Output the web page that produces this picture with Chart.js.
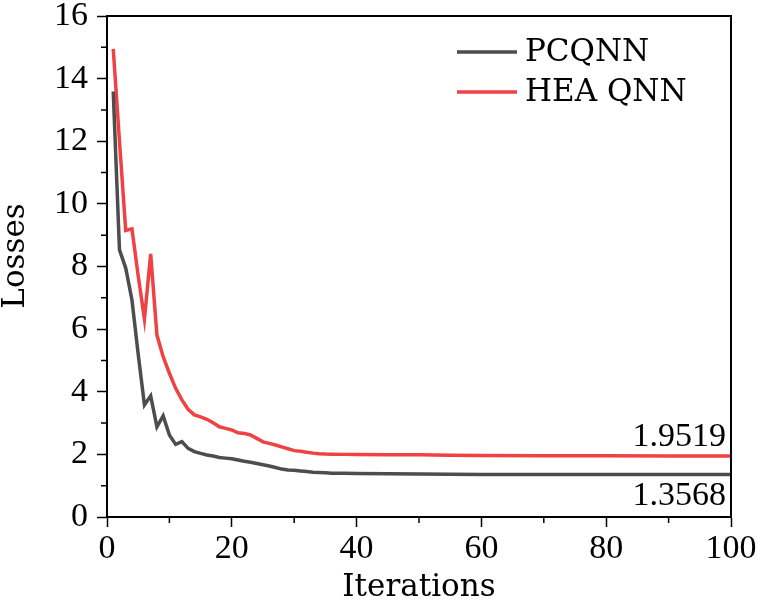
<!DOCTYPE html>
<html>
    <head>
        <title>Losses</title>
        <meta charset="utf-8">
        <style>
            html, body { margin: 0; padding: 0; background: #fff; }
            .chart-container { position: relative; width: 758px; height: 609px; }
        </style>
    </head>
    <body>
        <div class="chart-container">
            <canvas id="myChart"></canvas>
        </div>
        <script src="https://cdn.jsdelivr.net/npm/chart.js@4/dist/chart.umd.min.js"></script>
        <script>
            // values
            const iterations = [1, 2, 3, 4, 5, 6, 7, 8, 9, 10, 11, 12, 13, 14, 15, 16, 17, 18, 19, 20,
                21, 22, 23, 24, 25, 26, 27, 28, 29, 30, 31, 32, 33, 34, 35, 36, 38, 40, 45, 50,
                55, 60, 70, 80, 90, 100];
            const pcqnn = [13.59, 8.53, 7.95, 6.93, 5.2, 3.58, 3.87, 2.88, 3.23, 2.62, 2.32, 2.41, 2.19, 2.09, 2.03, 1.98, 1.95, 1.90, 1.88, 1.86,
                1.82, 1.78, 1.75, 1.71, 1.67, 1.63, 1.58, 1.53, 1.50, 1.49, 1.47, 1.45, 1.43, 1.42, 1.41, 1.40, 1.395, 1.39, 1.38, 1.37,
                1.365, 1.36, 1.358, 1.357, 1.357, 1.3568];
            const heaQnn = [14.95, 12.0, 9.15, 9.2, 7.7, 6.32, 8.40, 5.81, 5.12, 4.59, 4.11, 3.74, 3.44, 3.26, 3.20, 3.12, 3.01, 2.88, 2.83, 2.78,
                2.69, 2.67, 2.62, 2.51, 2.40, 2.35, 2.30, 2.24, 2.18, 2.12, 2.10, 2.07, 2.04, 2.02, 2.01, 2.005, 2.0, 2.0, 1.99, 1.985,
                1.975, 1.965, 1.955, 1.953, 1.952, 1.9519];
            const seriesNames = ['PCQNN', 'HEA QNN'];
            const seriesColors = ['#4d4d4d', '#f04242'];
            const endLabels = ['1.3568', '1.9519'];
            const xTicks = [0, 20, 40, 60, 80, 100];
            const yTicks = [0, 2, 4, 6, 8, 10, 12, 14, 16];
            const xMinor = [10, 30, 50, 70, 90];
            const yMinor = [1, 3, 5, 7, 9, 11, 13, 15];

            // numbers in a Times-like face, words in a wider serif (closer to the original widths)
            const numFont = "'Liberation Serif', serif";
            const wordFont = "'DejaVu Serif', serif";
            const numSize = 34;
            const wordSize = 31;

            // frame, minor ticks, y title, legend and end values
            const extras = {
                id: 'extras',
                afterDraw(chart) {
                    const c = chart.ctx;
                    const a = chart.chartArea;
                    const xs = chart.scales.x, ys = chart.scales.y;
                    c.save();
                    c.strokeStyle = '#000';
                    c.lineWidth = 2;
                    c.strokeRect(a.left, a.top, a.right - a.left, a.bottom - a.top);
                    c.lineWidth = 1.5;
                    c.beginPath();
                    xMinor.forEach(v => {
                        const px = xs.getPixelForValue(v);
                        c.moveTo(px, a.bottom); c.lineTo(px, a.bottom + 6);
                    });
                    yMinor.forEach(v => {
                        const py = ys.getPixelForValue(v);
                        c.moveTo(a.left, py); c.lineTo(a.left - 6, py);
                    });
                    c.stroke();

                    // y axis title
                    c.save();
                    c.translate(16, 256);
                    c.rotate(-Math.PI / 2);
                    c.font = wordSize + 'px ' + wordFont;
                    c.fillStyle = '#000';
                    c.textAlign = 'center';
                    c.textBaseline = 'middle';
                    c.fillText('Losses', 0, 0);
                    c.restore();

                    // legend in upper right
                    c.font = wordSize + 'px ' + wordFont;
                    c.textBaseline = 'middle';
                    c.textAlign = 'left';
                    seriesNames.forEach((name, i) => {
                        const y = a.top + 36 + i * 40;
                        c.strokeStyle = seriesColors[i];
                        c.lineWidth = 3.5;
                        c.beginPath();
                        c.moveTo(a.left + 350, y); c.lineTo(a.left + 410, y);
                        c.stroke();
                        c.fillStyle = '#000';
                        c.fillText(name, a.left + 418, y + 1);
                    });

                    // final loss values
                    c.font = numSize + 'px ' + numFont;
                    c.textAlign = 'right';
                    c.textBaseline = 'middle';
                    const xr = xs.getPixelForValue(100) - 5;
                    c.fillText(endLabels[1], xr, ys.getPixelForValue(1.9519) - 19);
                    c.fillText(endLabels[0], xr, ys.getPixelForValue(1.3568) + 22);
                    c.restore();
                }
            };

            const ctx = document.getElementById('myChart').getContext('2d');
            const chart = new Chart(ctx, {
                type: 'line',
                data: {
                    datasets: [
                        {
                            label: seriesNames[0],
                            data: iterations.map((x, i) => ({ x: x, y: pcqnn[i] })),
                            borderColor: seriesColors[0],
                            borderWidth: 3.5,
                            pointRadius: 0,
                            tension: 0,
                            fill: false,
                        },
                        {
                            label: seriesNames[1],
                            data: iterations.map((x, i) => ({ x: x, y: heaQnn[i] })),
                            borderColor: seriesColors[1],
                            borderWidth: 3.5,
                            pointRadius: 0,
                            tension: 0,
                            fill: false,
                        }
                    ]
                },
                options: {
                    responsive: true,
                    maintainAspectRatio: false,
                    animation: false,
                    layout: { padding: { top: 16, right: 27, left: 0, bottom: 0 } },
                    plugins: {
                        legend: { display: false },
                        tooltip: { enabled: false }
                    },
                    scales: {
                        x: {
                            type: 'linear',
                            min: 0,
                            max: 100,
                            afterBuildTicks: s => { s.ticks = xTicks.map(v => ({ value: v })); },
                            afterFit: s => { s.height = 92; s.paddingLeft = 0; s.paddingRight = 0; },
                            grid: { drawOnChartArea: false, tickLength: 10, tickWidth: 1.5, tickColor: '#000' },
                            border: { color: '#000', width: 2 },
                            ticks: {
                                color: '#000',
                                font: { family: numFont, size: numSize },
                                padding: 2,
                                maxRotation: 0
                            },
                            title: {
                                display: true,
                                text: 'Iterations',
                                color: '#000',
                                font: { family: wordFont, size: wordSize },
                                padding: { top: 0, bottom: 2 }
                            }
                        },
                        y: {
                            min: 0,
                            max: 16,
                            afterBuildTicks: s => { s.ticks = yTicks.map(v => ({ value: v })); },
                            afterFit: s => { s.width = 107; s.paddingTop = 0; s.paddingBottom = 0; },
                            grid: { drawOnChartArea: false, tickLength: 10, tickWidth: 1.5, tickColor: '#000' },
                            border: { color: '#000', width: 2 },
                            ticks: {
                                color: '#000',
                                font: { family: numFont, size: numSize },
                                padding: 9
                            },
                            title: { display: false }
                        }
                    }
                },
                plugins: [extras]
            });
        </script>
    </body>
</html>
